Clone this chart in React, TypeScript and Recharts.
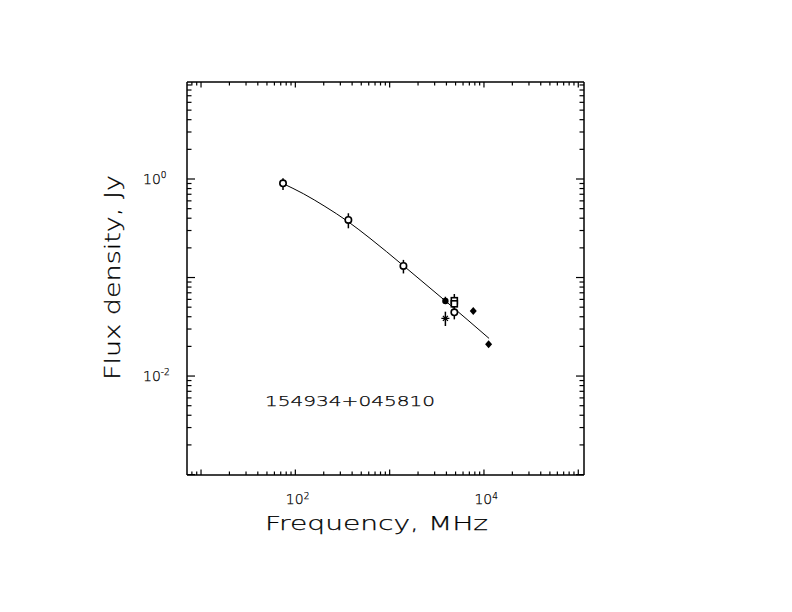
import React from 'react';
import { ComposedChart, Line, Scatter, ErrorBar, XAxis, YAxis } from 'recharts';

// fitted spectrum
const fitFreq = [73, 122, 206, 360, 619, 1377, 2100, 3865, 11330];
const fitFlux = [0.904, 0.708, 0.527, 0.371, 0.25, 0.1336, 0.0952, 0.0583, 0.0241];

// open circles
const circFreq = [74, 365, 1400, 4850];
const circFlux = [0.904, 0.384, 0.131, 0.0443];
const circLo = [0.773, 0.316, 0.11, 0.0376];
const circHi = [1.016, 0.449, 0.151, 0.0487];

// open squares
const sqFreq = [4850, 4850];
const sqFlux = [0.0582, 0.0541];
const sqLo = [0.052, 0.0487];
const sqHi = [0.068, 0.06];

// filled dot
const dotFreq = [3900];
const dotFlux = [0.0577];
const dotLo = [0.0538];
const dotHi = [0.0638];

// star
const starFreq = [3900];
const starFlux = [0.0385];
const starLo = [0.0322];
const starHi = [0.045];

// filled diamonds, no errors
const diaFreq = [7700, 11200];
const diaFlux = [0.0457, 0.021];

const xTicks = [8, 9, 10, 20, 30, 40, 50, 60, 70, 80, 90, 100, 200, 300, 400, 500, 600, 700, 800, 900,
  1000, 2000, 3000, 4000, 5000, 6000, 7000, 8000, 9000, 10000, 20000, 30000, 40000, 50000, 60000,
  70000, 80000, 90000, 100000];
const yTicks = [0.001, 0.002, 0.003, 0.004, 0.005, 0.006, 0.007, 0.008, 0.009, 0.01, 0.02, 0.03, 0.04,
  0.05, 0.06, 0.07, 0.08, 0.09, 0.1, 0.2, 0.3, 0.4, 0.5, 0.6, 0.7, 0.8, 0.9, 1, 2, 3, 4, 5, 6, 7, 8, 9];
const xLabelValues = [100, 10000];
const xLabelExps = ['2', '4'];
const yLabelValues = [1, 0.01];
const yLabelExps = ['0', '-2'];

const FONT = '"DejaVu Sans", sans-serif';
const textStyle = { fontFamily: FONT, fontWeight: 200, fill: '#000', stroke: '#000', strokeWidth: 0.25 };

const rows = (f: number[], v: number[], lo?: number[], hi?: number[]) =>
  f.map((freq, i) => ({
    freq,
    flux: v[i],
    err: lo && hi ? [v[i] - lo[i], hi[i] - v[i]] : [0, 0],
  }));

const fitData = fitFreq.map((freq, i) => ({ freq, flux: fitFlux[i] }));

const isDecade = (v: number) => Math.abs(Math.log10(v) - Math.round(Math.log10(v))) < 1e-6;
const near = (a: number, b: number) => Math.abs(a / b - 1) < 1e-6;

const XTick = ({ x, y, payload, top }: any) => {
  const v = payload.value;
  const len = isDecade(v) ? 5.5 : 3.5;
  const i = xLabelValues.findIndex((l) => near(l, v));
  return (
    <g>
      <line x1={x} y1={y} x2={x} y2={top ? y + len : y - len} stroke="#000" strokeWidth={1.2} />
      {!top && i >= 0 && (
        <text x={x - 9.5} y={y + 28.5} fontSize={14} {...textStyle}>
          10<tspan dy={-5} fontSize={9}>{xLabelExps[i]}</tspan>
        </text>
      )}
    </g>
  );
};

const YTick = ({ x, y, payload, right }: any) => {
  const v = payload.value;
  const len = isDecade(v) ? 8 : 4.5;
  const i = yLabelValues.findIndex((l) => near(l, v));
  return (
    <g>
      <line x1={x} y1={y} x2={right ? x - len : x + len} y2={y} stroke="#000" strokeWidth={1.2} />
      {!right && i >= 0 && (
        <text x={x - 44} y={y + 5} fontSize={14} {...textStyle}>
          10<tspan dy={-6} fontSize={9}>{yLabelExps[i]}</tspan>
        </text>
      )}
    </g>
  );
};

const OpenCircle = ({ cx, cy }: any) => (
  <circle cx={cx} cy={cy} r={3.2} fill="#fff" stroke="#000" strokeWidth={1.6} />
);
const OpenSquare = ({ cx, cy }: any) => (
  <rect x={cx - 3} y={cy - 3} width={6} height={6} fill="#fff" stroke="#000" strokeWidth={1.6} />
);
const FilledDot = ({ cx, cy }: any) => <circle cx={cx} cy={cy} r={3.2} fill="#000" />;
const Diamond = ({ cx, cy }: any) => (
  <path d={`M${cx},${cy - 4}L${cx + 3.5},${cy}L${cx},${cy + 4}L${cx - 3.5},${cy}Z`} fill="#000" />
);
const Star = ({ cx, cy }: any) => (
  <path
    d={`M${cx - 4},${cy}H${cx + 4}M${cx - 2.5},${cy - 2.5}L${cx + 2.5},${cy + 2.5}M${cx - 2.5},${cy + 2.5}L${cx + 2.5},${cy - 2.5}`}
    stroke="#000"
    strokeWidth={1.3}
  />
);

const errProps = { dataKey: 'err', direction: 'y' as const, width: 0, stroke: '#000', strokeWidth: 1.5 };

export default function App() {
  return (
    <div style={{ position: 'absolute', left: 0, top: 0, width: 792, height: 612, background: '#fff' }}>
      <ComposedChart width={792} height={612} margin={{ top: 81, right: 207, left: 127, bottom: 97 }}>
        <XAxis
          xAxisId="b"
          type="number"
          dataKey="freq"
          scale="log"
          domain={[7.1, 115000]}
          allowDataOverflow
          ticks={xTicks}
          interval={0}
          height={40}
          tickSize={0}
          tickMargin={0}
          tickLine={false}
          axisLine={{ stroke: '#000', strokeWidth: 1.5 }}
          tick={(p: any) => <XTick {...p} top={false} />}
        />
        <XAxis
          xAxisId="t"
          orientation="top"
          type="number"
          dataKey="freq"
          scale="log"
          domain={[7.1, 115000]}
          allowDataOverflow
          ticks={xTicks}
          interval={0}
          height={1}
          tickSize={0}
          tickMargin={0}
          tickLine={false}
          axisLine={{ stroke: '#000', strokeWidth: 1.5 }}
          tick={(p: any) => <XTick {...p} top />}
        />
        <YAxis
          yAxisId="l"
          type="number"
          scale="log"
          domain={[0.00099, 9.65]}
          allowDataOverflow
          ticks={yTicks}
          interval={0}
          width={60}
          tickSize={0}
          tickMargin={0}
          tickLine={false}
          axisLine={{ stroke: '#000', strokeWidth: 1.5 }}
          tick={(p: any) => <YTick {...p} right={false} />}
        />
        <YAxis
          yAxisId="r"
          orientation="right"
          type="number"
          scale="log"
          domain={[0.00099, 9.65]}
          allowDataOverflow
          ticks={yTicks}
          interval={0}
          width={1}
          tickSize={0}
          tickMargin={0}
          tickLine={false}
          axisLine={{ stroke: '#000', strokeWidth: 1.5 }}
          tick={(p: any) => <YTick {...p} right />}
        />
        <Line
          xAxisId="b"
          yAxisId="l"
          data={fitData}
          dataKey="flux"
          type="monotone"
          stroke="#000"
          strokeWidth={1}
          dot={false}
          isAnimationActive={false}
        />
        <Scatter xAxisId="b" yAxisId="l" data={rows(circFreq, circFlux, circLo, circHi)} dataKey="flux" shape={OpenCircle} isAnimationActive={false}>
          <ErrorBar {...errProps} />
        </Scatter>
        <Scatter xAxisId="b" yAxisId="l" data={rows(sqFreq, sqFlux, sqLo, sqHi)} dataKey="flux" shape={OpenSquare} isAnimationActive={false}>
          <ErrorBar {...errProps} />
        </Scatter>
        <Scatter xAxisId="b" yAxisId="l" data={rows(dotFreq, dotFlux, dotLo, dotHi)} dataKey="flux" shape={FilledDot} isAnimationActive={false}>
          <ErrorBar {...errProps} />
        </Scatter>
        <Scatter xAxisId="b" yAxisId="l" data={rows(starFreq, starFlux, starLo, starHi)} dataKey="flux" shape={Star} isAnimationActive={false}>
          <ErrorBar {...errProps} />
        </Scatter>
        <Scatter xAxisId="b" yAxisId="l" data={rows(diaFreq, diaFlux)} dataKey="flux" shape={Diamond} isAnimationActive={false} />
      </ComposedChart>
      <svg width={792} height={612} style={{ position: 'absolute', left: 0, top: 0, pointerEvents: 'none' }}>
        <text x={265} y={530} fontSize={20} {...textStyle} textLength={223} lengthAdjust="spacingAndGlyphs">
          Frequency, MHz
        </text>
        <text
          x={120}
          y={277.5}
          transform="rotate(-90 120 277.5)"
          fontSize={21}
          {...textStyle}
          textAnchor="middle"
          textLength={205}
          lengthAdjust="spacingAndGlyphs"
        >
          Flux density, Jy
        </text>
        <text x={265} y={405.5} fontSize={14.5} {...textStyle} textLength={170} lengthAdjust="spacingAndGlyphs">
          154934+045810
        </text>
      </svg>
    </div>
  );
}
